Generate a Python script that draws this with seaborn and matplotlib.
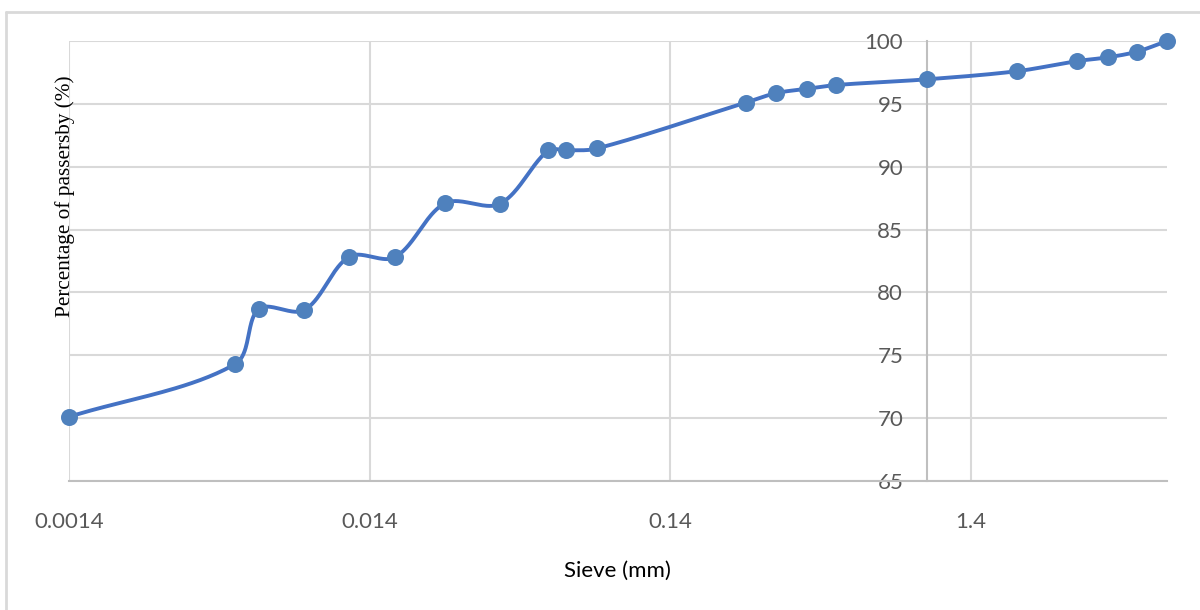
import numpy as np
import matplotlib
matplotlib.use("Agg")
import matplotlib.pyplot as plt
from matplotlib.lines import Line2D
from matplotlib.ticker import FixedLocator, FixedFormatter, NullLocator
import seaborn as sns

# Particle size distribution: sieve / hydrometer size vs. percentage passing
sieve_mm = [0.0014, 0.005, 0.006, 0.0085, 0.012, 0.017, 0.025, 0.038, 0.055, 0.063,
            0.08, 0.25, 0.315, 0.4, 0.5, 1.0, 2.0, 3.15, 4.0, 5.0, 6.3]
passing_pct = [70.1, 74.3, 78.7, 78.6, 82.85, 82.8, 87.1, 87.05, 91.3, 91.3,
               91.45, 95.1, 95.85, 96.2, 96.5, 96.95, 97.6, 98.4, 98.7, 99.15, 100.0]

x_ticks = [0.0014, 0.014, 0.14, 1.4]
x_tick_labels = ["0.0014", "0.014", "0.14", "1.4"]
y_ticks = [65, 70, 75, 80, 85, 90, 95, 100]

sns.set_theme(style="white")
plt.rcParams["font.family"] = ["Lato", "DejaVu Sans"]

LINE = "#4472C4"
MARK = "#4F81BD"
GRID = "#D9D9D9"
AXIS = "#BFBFBF"
TICK = "#595959"

fig = plt.figure(figsize=(12, 6.1), dpi=100)
ax = fig.add_axes([69 / 1200, 1 - 481 / 610, (1167 - 69) / 1200, (481 - 41) / 610])
ax.set_xscale("log")
ax.set_xlim(0.0014, 6.3)
ax.set_ylim(65, 100)

# Smoothed connecting curve (cubic Bezier through the points, in screen space)
pts = ax.transData.transform(np.column_stack([sieve_mm, passing_pct]))
P = np.vstack([pts[0], pts, pts[-1]])
segments = []
t = np.linspace(0, 1, 40)[:, None]
for i in range(1, len(P) - 2):
    p0, p1, p2, p3 = P[i - 1], P[i], P[i + 1], P[i + 2]
    l01 = np.hypot(*(p1 - p0))
    l12 = np.hypot(*(p2 - p1))
    l23 = np.hypot(*(p3 - p2))
    c1 = p1 + (p2 - p0) * (l12 / max(l01 + l12, 1e-9)) / 3
    c2 = p2 - (p3 - p1) * (l12 / max(l12 + l23, 1e-9)) / 3
    seg = (1 - t) ** 3 * p1 + 3 * (1 - t) ** 2 * t * c1 + 3 * (1 - t) * t ** 2 * c2 + t ** 3 * p2
    segments.append(seg if i == 1 else seg[1:])
curve = ax.transData.inverted().transform(np.vstack(segments))

sns.lineplot(x=curve[:, 0], y=curve[:, 1], sort=False, estimator=None,
             color=LINE, linewidth=2.8, ax=ax, zorder=3, clip_on=False)
sns.scatterplot(x=sieve_mm, y=passing_pct, color=MARK, s=150, edgecolor=MARK,
                linewidth=0, ax=ax, zorder=4, clip_on=False)

# Grid
ax.xaxis.set_major_locator(FixedLocator(x_ticks))
ax.xaxis.set_major_formatter(FixedFormatter(x_tick_labels))
ax.xaxis.set_minor_locator(NullLocator())
ax.yaxis.set_major_locator(FixedLocator(y_ticks))
ax.grid(True, color=GRID, linewidth=1.5)
ax.set_axisbelow(True)

# Vertical axis crosses the horizontal axis at 1 mm
for s in ["top", "right"]:
    ax.spines[s].set_visible(False)
ax.spines["left"].set_position(("data", 1.0))
ax.spines["left"].set_color(AXIS)
ax.spines["left"].set_linewidth(1.5)
ax.spines["bottom"].set_color(AXIS)
ax.spines["bottom"].set_linewidth(1.5)

ax.tick_params(axis="both", length=0, labelsize=16, labelcolor=TICK)
ax.tick_params(axis="y", pad=17)
ax.tick_params(axis="x", pad=22)
ax.set_xlabel("")
ax.set_ylabel("")

fig.text(617 / 1200, 1 - 571 / 610, "Sieve (mm)", ha="center", va="center",
         fontsize=16, color="#000000")
fig.text(65 / 1200, 1 - 196 / 610, "Percentage of passersby (%)", rotation=90,
         ha="center", va="center", fontsize=15.3, color="#000000",
         family=["Liberation Serif", "DejaVu Serif"])

# Chart area border
fig.add_artist(Line2D([6 / 1200, 6 / 1200], [0, 1 - 12 / 610], color=GRID,
                      linewidth=2, transform=fig.transFigure))
fig.add_artist(Line2D([6 / 1200, 1], [1 - 12 / 610, 1 - 12 / 610], color=GRID,
                      linewidth=2, transform=fig.transFigure))

fig.savefig("out.png", dpi=100, facecolor="white")
